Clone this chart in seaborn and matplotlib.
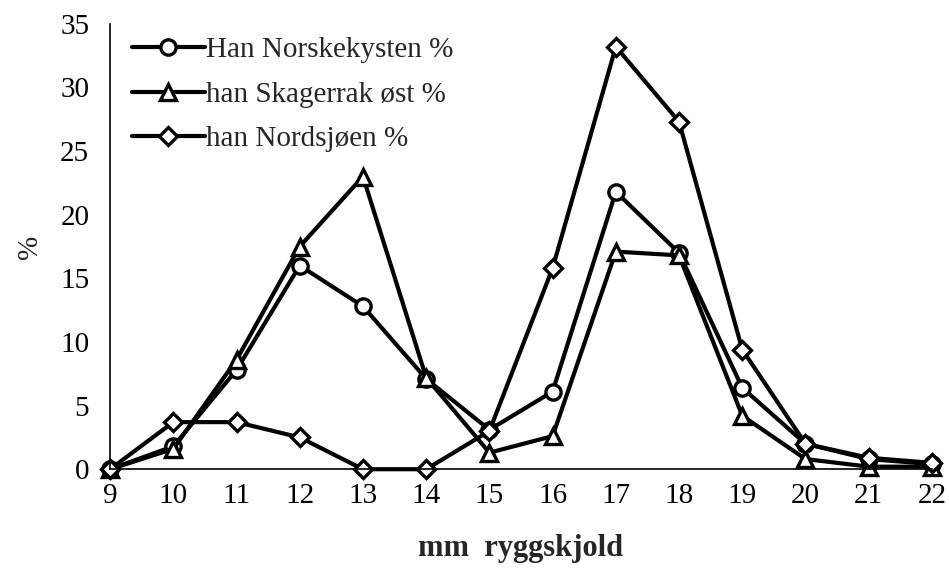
import pandas as pd
import matplotlib.pyplot as plt
import seaborn as sns

sns.set_style("white")
plt.rcParams['font.family'] = ['Liberation Serif', 'DejaVu Serif']

# mm ryggskjold
mm = [9, 10, 11, 12, 13, 14, 15, 16, 17, 18, 19, 20, 21, 22]

norskekysten = [0, 1.8, 7.8, 16.0, 12.8, 7.1, 3.1, 6.1, 21.8, 17.0, 6.4, 2.0, 0.8, 0.4]
skagerrak = [0, 1.6, 8.6, 17.5, 23.0, 7.2, 1.3, 2.6, 17.1, 16.8, 4.2, 0.8, 0.2, 0.2]
nordsjoen = [0, 3.7, 3.7, 2.5, 0, 0, 3.0, 15.8, 33.2, 27.3, 9.4, 2.0, 0.9, 0.5]

labels = ['Han Norskekysten %', 'han Skagerrak øst %', 'han Nordsjøen %']
markers = ['o', '^', 'D']
sizes = [11, 12, 9.5]

df = pd.DataFrame({'mm': mm * 3,
                   'pct': norskekysten + skagerrak + nordsjoen,
                   'serie': sum([[l] * len(mm) for l in labels], [])})

fig = plt.figure(figsize=(9.49, 5.8), dpi=100)
ax = fig.add_axes([0.116, 0.191, 0.866, 0.768])

for lab, mk, ms in zip(labels, markers, sizes):
    sub = df[df['serie'] == lab]
    sns.lineplot(data=sub, x='mm', y='pct', ax=ax, color='black', lw=3.0,
                 marker=mk, markersize=ms, markerfacecolor='white',
                 markeredgecolor='black', markeredgewidth=2.4,
                 label=lab, clip_on=False)

ax.set_xlim(9, 22)
ax.set_ylim(0, 35)
ax.set_xticks(mm)
ax.set_yticks(range(0, 36, 5))
ax.tick_params(axis='both', direction='inout', length=14, width=1.2,
               labelsize=21, colors='black', pad=8)
ax.tick_params(axis='x', pad=3)
for s in ['top', 'right']:
    ax.spines[s].set_visible(False)
for s in ['left', 'bottom']:
    ax.spines[s].set_color('black')
    ax.spines[s].set_linewidth(1.2)

ax.set_xlabel('mm  ryggskjold', fontsize=22, fontweight='bold', labelpad=18)
ax.set_ylabel('%', fontsize=21, labelpad=12)

ax.legend(loc='upper left', bbox_to_anchor=(0.005, 1.01), frameon=False,
          fontsize=21, handlelength=2.5, handletextpad=0.05, labelspacing=0.62,
          borderaxespad=0.2)

plt.savefig('out.png', dpi=100)
